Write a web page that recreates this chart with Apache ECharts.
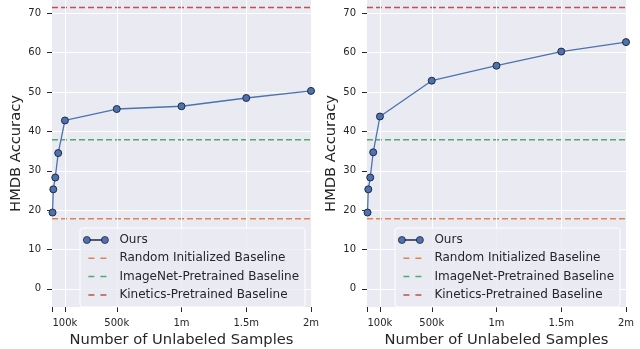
<!DOCTYPE html>
<html>
<head>
<meta charset="utf-8">
<script src="https://cdn.jsdelivr.net/npm/echarts@6/dist/echarts.min.js"></script>
<style>
  html, body { margin: 0; padding: 0; background: #fff; }
  #chart { width: 640px; height: 349px; }
</style>
</head>
<body>
<div id="chart"></div>
<script>
// number of unlabeled samples
const samples = [4000, 10000, 25000, 48000, 100000, 500000, 1000000, 1500000, 2000000];
const oursLeft = [19.4, 25.3, 28.3, 34.5, 42.8, 45.7, 46.4, 48.5, 50.3];
const oursRight = [19.4, 25.3, 28.3, 34.7, 43.8, 52.9, 56.7, 60.3, 62.7];
const randomBaseline = 17.8;
const imagenetBaseline = 37.9;
const kineticsBaseline = 71.5;
const xTickValues = [0, 100000, 500000, 1000000, 1500000, 2000000];
const xLabelValues = [100000, 500000, 1000000, 1500000, 2000000];
const xTickLabels = ['100k', '500k', '1m', '1.5m', '2m'];
const yTickValues = [0, 10, 20, 30, 40, 50, 60, 70];
const xGridValues = [100000, 500000, 1000000, 1500000];

const FONT = 'DejaVu Sans';
const TEXT = '#262626';
const BLUE = '#4C72B0';
const ORANGE = '#DD8452';
const GREEN = '#55A868';
const RED = '#C44E52';

const chart = echarts.init(document.getElementById('chart'));

// legend handles: two markers joined by a line, and two short dashes
const oursIcon = 'path://M0,3.5a3.5,3.5 0 1,0 7,0a3.5,3.5 0 1,0 -7,0z' +
  'M18,3.5a3.5,3.5 0 1,0 7,0a3.5,3.5 0 1,0 -7,0zM6.5,3.2h12v0.6h-12z';
const dashIcon = 'path://M0,0h0v0zM25,7h0v0zM5,2.75h6v1.5h-6zM17,2.75h6v1.5h-6z';

function xAxisFor(gridIndex) {
  return {
    type: 'value',
    gridIndex: gridIndex,
    min: 0,
    max: 2000000,
    name: 'Number of Unlabeled Samples',
    nameLocation: 'middle',
    nameGap: 26,
    nameTextStyle: { fontFamily: FONT, fontSize: 14.7, color: TEXT },
    axisLine: { show: false, onZero: false },
    splitLine: { show: false },
    axisTick: {
      show: true,
      customValues: xTickValues,
      length: 5,
      lineStyle: { color: TEXT, width: 1 },
    },
    axisLabel: {
      customValues: xLabelValues,
      margin: 11,
      fontFamily: FONT,
      fontSize: 10,
      color: TEXT,
      formatter: function (v) {
        return xTickLabels[xLabelValues.indexOf(v)];
      },
    },
  };
}

function yAxisFor(gridIndex) {
  return {
    type: 'value',
    gridIndex: gridIndex,
    min: -4.6,
    max: 73.4,
    name: 'HMDB Accuracy',
    nameLocation: 'middle',
    nameGap: 28,
    nameTextStyle: { fontFamily: FONT, fontSize: 14.7, color: TEXT },
    axisLine: { show: false, onZero: false },
    splitLine: { show: false },
    axisTick: {
      show: true,
      customValues: yTickValues,
      length: 5,
      lineStyle: { color: TEXT, width: 1 },
    },
    axisLabel: {
      customValues: yTickValues,
      margin: 11,
      fontFamily: FONT,
      fontSize: 10,
      color: TEXT,
    },
  };
}

function baseline(idx, name, value, color) {
  return {
    type: 'line',
    name: name,
    xAxisIndex: idx,
    yAxisIndex: idx,
    z: 3,
    data: [[0, value], [2000000, value]],
    symbol: 'none',
    lineStyle: { color: color, width: 1.5, type: [6, 3] },
    itemStyle: { color: color },
  };
}

function panelSeries(idx, values) {
  const gridLines = xGridValues.map(function (v) { return { xAxis: v }; })
    .concat(yTickValues.map(function (v) { return { yAxis: v }; }));
  return [
    {
      type: 'line',
      name: 'grid' + idx,
      xAxisIndex: idx,
      yAxisIndex: idx,
      data: [],
      z: 1,
      silent: true,
      markLine: {
        silent: true,
        symbol: 'none',
        label: { show: false },
        lineStyle: { color: '#ffffff', width: 1, type: 'solid' },
        data: gridLines,
        animation: false,
      },
    },
    baseline(idx, 'Random Initialized Baseline', randomBaseline, ORANGE),
    baseline(idx, 'ImageNet-Pretrained Baseline', imagenetBaseline, GREEN),
    baseline(idx, 'Kinetics-Pretrained Baseline', kineticsBaseline, RED),
    {
      type: 'line',
      name: 'Ours',
      xAxisIndex: idx,
      yAxisIndex: idx,
      z: 5,
      data: samples.map(function (s, i) { return [s, values[i]]; }),
      symbol: 'circle',
      symbolSize: 7,
      lineStyle: { color: BLUE, width: 1.3 },
      itemStyle: { color: BLUE, borderColor: '#1f2a3d', borderWidth: 1 },
    },
  ];
}

function legendFor(left) {
  return {
    orient: 'vertical',
    left: left,
    top: 228,
    z: 10,
    padding: [6, 6, 6, 3],
    itemWidth: 25,
    itemHeight: 7,
    itemGap: 6.3,
    backgroundColor: 'rgba(234,234,242,0.8)',
    borderColor: '#ffffff',
    borderWidth: 1,
    borderRadius: 3,
    textStyle: { fontFamily: FONT, fontSize: 12, color: TEXT, lineHeight: 11, padding: [0, 0, 0, 6] },
    selectedMode: false,
    data: [
      { name: 'Ours', icon: oursIcon, itemStyle: { color: BLUE, borderColor: '#1f2a3d', borderWidth: 0.8 } },
      { name: 'Random Initialized Baseline', icon: dashIcon, itemStyle: { borderWidth: 0 } },
      { name: 'ImageNet-Pretrained Baseline', icon: dashIcon, itemStyle: { borderWidth: 0 } },
      { name: 'Kinetics-Pretrained Baseline', icon: dashIcon, itemStyle: { borderWidth: 0 } },
    ],
  };
}

chart.setOption({
  animation: false,
  grid: [
    { left: 52, top: 0, width: 259, height: 307, show: true, backgroundColor: '#EAEAF2', borderWidth: 0, outerBoundsMode: 'none' },
    { left: 367, top: 0, width: 259, height: 307, show: true, backgroundColor: '#EAEAF2', borderWidth: 0, outerBoundsMode: 'none' },
  ],
  xAxis: [xAxisFor(0), xAxisFor(1)],
  yAxis: [yAxisFor(0), yAxisFor(1)],
  legend: [legendFor(80), legendFor(395)],
  series: panelSeries(0, oursLeft).concat(panelSeries(1, oursRight)),
});
</script>
</body>
</html>
